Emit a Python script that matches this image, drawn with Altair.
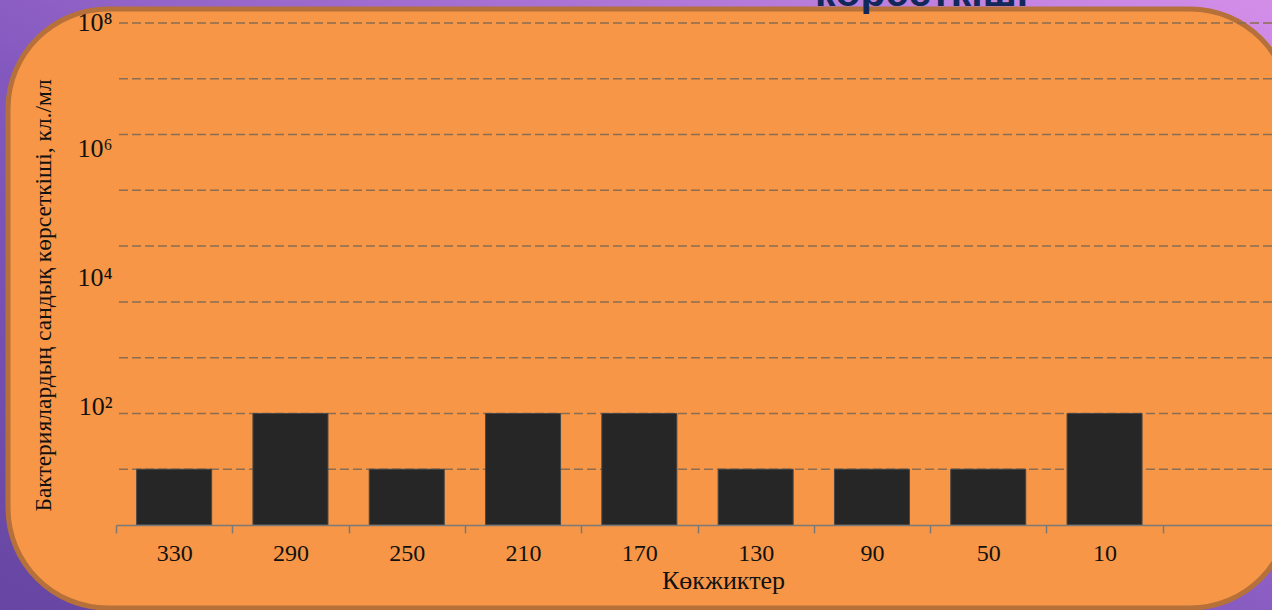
import altair as alt
import pandas as pd

# Heights (categories) and bacterial counts per ml
heights = ["330", "290", "250", "210", "170", "130", "90", "50", "10"]
counts = [10, 100, 10, 100, 100, 10, 10, 10, 100]
x_domain = heights + [" "]

# Decade gridlines and labelled ticks
grid_values = [1e1, 1e2, 1e3, 1e4, 1e5, 1e6, 1e7, 1e8, 1e9]
label_values = [1e2, 1e4, 1e6, 1e8]
label_text = ["10²", "10⁴", "10⁶", "10⁸"]
label_shift = [-7, -24, -42, -56]

W, H = 1156, 502
PAD_L, PAD_T, PAD_B = 116, 23, 85
STEP = 116.3

bars_df = pd.DataFrame({"h": heights, "n": counts})
grid_df = pd.DataFrame({"v": grid_values})
one = pd.DataFrame({"a": [0]})

yscale = alt.Scale(type="log", domain=[1, 1e9])
xscale = alt.Scale(domain=x_domain, range=[0, STEP * len(x_domain)],
                   paddingInner=0.355, paddingOuter=0.1775)

label_expr = ""
for v, t in zip(label_values, label_text):
    label_expr += f"datum.value == {int(v)} ? '{t}' : "
label_expr += "''"

label_offset = {
    "condition": [
        {"test": f"datum.value == {int(v)}", "value": s}
        for v, s in zip(label_values[:-1], label_shift[:-1])
    ],
    "value": label_shift[-1],
}

SERIF = "Liberation Serif"

y_axis = alt.Axis(
    values=label_values, labelExpr=label_expr,
    title="Бактериялардың сандық көрсеткіші, кл./мл",
    titleFont=SERIF, titleFontSize=23.5, titleFontWeight="normal",
    titleColor="#111111", titleX=-73, titleY=272,
    titleAlign="center", titleBaseline="middle",
    labelFont=SERIF, labelFontSize=26, labelColor="#111111",
    labelPadding=4, labelBaseline="middle", labelOffset=label_offset,
    labelOverlap=False, labelFlush=False, labelBound=False,
    ticks=False, tickSize=0, domain=False, grid=False, zindex=1,
)

backdrop = alt.Chart(one).mark_rect(
    fill=alt.LinearGradient(
        gradient="linear",
        stops=[
            alt.GradientStop(offset=0, color="#6646a2"),
            alt.GradientStop(offset=0.45, color="#8459bf"),
            alt.GradientStop(offset=1, color="#d690ea"),
        ],
        x1=0, y1=1, x2=1, y2=0,
    )
).encode(
    x=alt.value(-PAD_L), x2=alt.value(W + 50),
    y=alt.value(-PAD_T), y2=alt.value(H + PAD_B + 10),
)

panel = alt.Chart(one).mark_rect(
    fill="#f79646", stroke="#b6713a", strokeWidth=5, cornerRadius=100
).encode(
    x=alt.value(8 - PAD_L), x2=alt.value(1290 - PAD_L),
    y=alt.value(9 - PAD_T), y2=alt.value(608 - PAD_T),
)

heading = alt.Chart(one).mark_text(
    text="көрсеткіші", font="Liberation Sans", fontWeight="bold", fontSize=41,
    color="#13285a", align="left", baseline="alphabetic",
).encode(x=alt.value(815 - PAD_L), y=alt.value(5.5 - PAD_T))

grid = alt.Chart(grid_df).mark_rule(
    color="#8a6d52", strokeDash=[9, 4], strokeWidth=1.5
).encode(y=alt.Y("v:Q", scale=yscale, axis=y_axis))

bars = alt.Chart(bars_df).mark_bar(
    color="#262626", stroke="#474747", strokeWidth=1
).encode(
    x=alt.X(
        "h:N", scale=xscale, sort=None,
        axis=alt.Axis(
            title="Көкжиктер", titleFont=SERIF, titleFontSize=26,
            titleFontWeight="normal", titleColor="#111111",
            titleX=607, titleY=63, titleAlign="center", titleBaseline="alphabetic",
            labelFont=SERIF, labelFontSize=24, labelColor="#111111", labelAngle=0,
            labelPadding=20, labelBaseline="middle", labelOffset=STEP / 2,
            domainColor="#7a7a7a", domainWidth=1.5,
            tickColor="#7a7a7a", tickWidth=1.5, tickSize=8, tickOffset=-STEP / 2,
            grid=False, zindex=1,
        ),
    ),
    y=alt.Y("n:Q", scale=yscale, axis=y_axis),
    y2=alt.datum(1),
)

chart = alt.layer(backdrop, panel, heading, grid, bars).properties(
    width=W, height=H,
    autosize=alt.AutoSizeParams(type="none"),
    padding={"left": PAD_L, "top": PAD_T, "right": 0, "bottom": PAD_B},
).configure_view(stroke=None)

chart.save("out.html", embed_options={"renderer": "svg", "actions": False})
